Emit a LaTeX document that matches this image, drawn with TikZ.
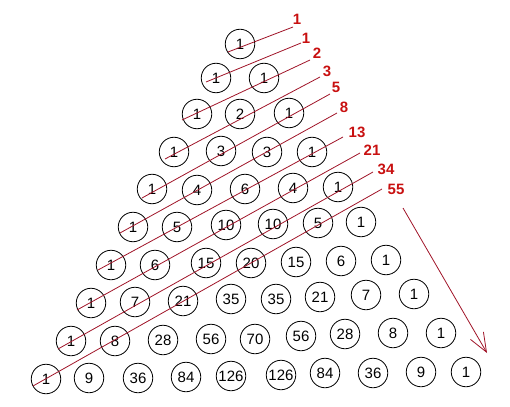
\documentclass[tikz,border=0pt]{standalone}
\usepackage{fontspec}
\setmainfont{Liberation Sans}
\usetikzlibrary{arrows.meta}
\definecolor{labred}{RGB}{200,16,16}
\definecolor{linered}{RGB}{160,20,40}
\begin{document}
\begin{tikzpicture}[x=1pt,y=-1pt,
  cell/.style={circle,draw=black,line width=0.8pt,minimum size=29.5pt,inner sep=0pt,font=\fontsize{15}{15}\selectfont},
  fiblabel/.style={text=labred,inner sep=0pt,font=\fontsize{15}{15}\selectfont\bfseries},
  fibline/.style={draw=linered,line width=0.8pt},
  fibarrow/.style={draw=linered,line width=0.8pt,-{Straight Barb[length=19pt,width=15pt,line width=0.8pt]}}]
\useasboundingbox (0,0) rectangle (510,406);
% row 0
\node[cell] (c0-0) at (240,44) {1};
% row 1
\node[cell] (c1-0) at (216,78) {1};
\node[cell] (c1-1) at (264,78) {1};
% row 2
\node[cell] (c2-0) at (197,114) {1};
\node[cell] (c2-1) at (240,114) {2};
\node[cell] (c2-2) at (289,113) {1};
% row 3
\node[cell] (c3-0) at (174,152) {1};
\node[cell] (c3-1) at (221,151) {3};
\node[cell] (c3-2) at (267,152) {3};
\node[cell] (c3-3) at (312,152) {1};
% row 4
\node[cell] (c4-0) at (152,189) {1};
\node[cell] (c4-1) at (197,190) {4};
\node[cell] (c4-2) at (245,189) {6};
\node[cell] (c4-3) at (293,188) {4};
\node[cell] (c4-4) at (338,187) {1};
% row 5
\node[cell] (c5-0) at (133,227) {1};
\node[cell] (c5-1) at (177,227) {5};
\node[cell] (c5-2) at (226,225) {10};
\node[cell] (c5-3) at (273,224) {10};
\node[cell] (c5-4) at (318,223) {5};
\node[cell] (c5-5) at (361,222) {1};
% row 6
\node[cell] (c6-0) at (111,265) {1};
\node[cell] (c6-1) at (155,265) {6};
\node[cell] (c6-2) at (206,263) {15};
\node[cell] (c6-3) at (251,263) {20};
\node[cell] (c6-4) at (296,262) {15};
\node[cell] (c6-5) at (341,261) {6};
\node[cell] (c6-6) at (386,260) {1};
% row 7
\node[cell] (c7-0) at (91,303) {1};
\node[cell] (c7-1) at (135,302) {7};
\node[cell] (c7-2) at (183,301) {21};
\node[cell] (c7-3) at (231,299) {35};
\node[cell] (c7-4) at (276,299) {35};
\node[cell] (c7-5) at (320,297) {21};
\node[cell] (c7-6) at (366,295) {7};
\node[cell] (c7-7) at (414,294) {1};
% row 8
\node[cell] (c8-0) at (71,341) {1};
\node[cell] (c8-1) at (115,341) {8};
\node[cell] (c8-2) at (163,340) {28};
\node[cell] (c8-3) at (211,339) {56};
\node[cell] (c8-4) at (255,339) {70};
\node[cell] (c8-5) at (301,336) {56};
\node[cell] (c8-6) at (345,334) {28};
\node[cell] (c8-7) at (393,333) {8};
\node[cell] (c8-8) at (441,333) {1};
% row 9
\node[cell] (c9-0) at (46,379) {1};
\node[cell] (c9-1) at (89,378) {9};
\node[cell] (c9-2) at (138,378) {36};
\node[cell] (c9-3) at (186,377) {84};
\node[cell] (c9-4) at (231,376) {126};
\node[cell] (c9-5) at (281,375) {126};
\node[cell] (c9-6) at (325,373) {84};
\node[cell] (c9-7) at (373,373) {36};
\node[cell] (c9-8) at (421,372) {9};
\node[cell] (c9-9) at (466,372) {1};
% Fibonacci labels
\node[fiblabel] (f0) at (297,19) {1};
\node[fiblabel] (f1) at (306,38) {1};
\node[fiblabel] (f2) at (317,53) {2};
\node[fiblabel] (f3) at (327,71) {3};
\node[fiblabel] (f4) at (336,87) {5};
\node[fiblabel] (f5) at (344,107) {8};
\node[fiblabel] (f6) at (357,132) {13};
\node[fiblabel] (f7) at (372,150) {21};
\node[fiblabel] (f8) at (386,169) {34};
\node[fiblabel] (f9) at (396,189) {55};
% line ends
\coordinate (s0) at (228,52);  \coordinate (e0) at (293,27);
\coordinate (s1) at (206,82);  \coordinate (e1) at (301,43);
\coordinate (s2) at (182,120); \coordinate (e2) at (310,60);
\coordinate (s3) at (165,159); \coordinate (e3) at (320,77);
\coordinate (s4) at (142,198); \coordinate (e4) at (330,94);
\coordinate (s5) at (120,233); \coordinate (e5) at (337,113);
\coordinate (s6) at (98,270);  \coordinate (e6) at (343,137);
\coordinate (s7) at (77,310);  \coordinate (e7) at (360,153);
\coordinate (s8) at (58,349);  \coordinate (e8) at (373,172);
\coordinate (s9) at (33,386);  \coordinate (e9) at (382,189);
\foreach \i in {0,...,9} {\draw[fibline] (s\i) -- (e\i);}
% arrow
\coordinate (a0) at (403,208);
\coordinate (a1) at (487,353);
\draw[fibarrow] (a0) -- (a1);
\end{tikzpicture}
\end{document}
